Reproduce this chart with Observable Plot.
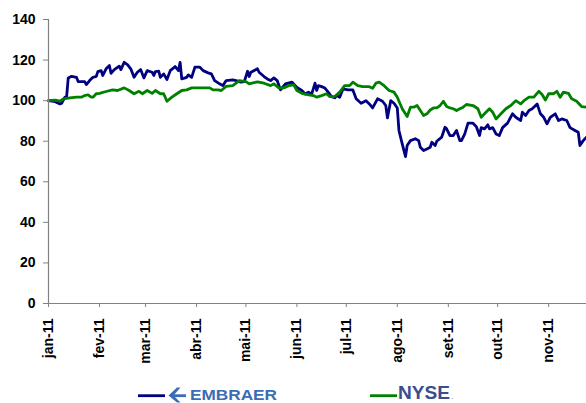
<!DOCTYPE html>
<html><head><meta charset="utf-8">
<script src="https://cdn.jsdelivr.net/npm/d3@7"></script>
<script src="https://cdn.jsdelivr.net/npm/@observablehq/plot@0.6"></script>
<style>
html,body{margin:0;padding:0;background:#fff;overflow:hidden}
#wrap{position:relative;width:586px;height:403px;font-family:"Liberation Sans",Arial,sans-serif}
#chart svg{display:block}
#legend{position:absolute;left:0;top:380px;width:586px;height:23px}
</style></head>
<body><div id="wrap"><div id="chart"></div>
<svg id="legend" width="586" height="23" viewBox="0 0 586 23">
  <rect x="138" y="14.3" width="27" height="2.8" fill="#000080"/>
  <g fill="#3a6db4">
    <polygon points="168.5,15.6 177,7.6 180.5,7.6 173.5,15.6 180.5,22.6 177,22.6"/>
    <rect x="171" y="14.3" width="15" height="2.8"/>
  </g>
  <text x="190" y="19.5" font-family="Liberation Sans, Arial, sans-serif" font-weight="bold" font-size="14.5" fill="#3a6db4" textLength="87" lengthAdjust="spacingAndGlyphs">EMBRAER</text>
  <rect x="370" y="14.3" width="27" height="2.8" fill="#008000"/>
  <text x="398" y="19" font-family="Liberation Sans, Arial, sans-serif" font-weight="bold" font-size="18" fill="#3b4d8f" textLength="52" lengthAdjust="spacingAndGlyphs">NYSE</text>
  <text x="451" y="19" font-family="Liberation Sans, Arial, sans-serif" font-size="9" fill="#9a9aa8">.</text>
</svg>
</div>
<script>
// ---- data ----
const monthTicks = ["01-01","02-01","03-01","04-01","05-01","06-01","07-01","08-01","09-01","10-01","11-01"];
const monthLabels = ["jan-11","fev-11","mar-11","abr-11","mai-11","jun-11","jul-11","ago-11","set-11","out-11","nov-11"];
const yTicks = [0,20,40,60,80,100,120,140];
const xStart = "01-01";
const xEnd = "11-24";

const embraerDates = ["01-01","01-05","01-08","01-09","01-11","01-12","01-13","01-15","01-18","01-19","01-23","01-24","01-26","01-28","01-30","01-31",
"02-02","02-03","02-05","02-07","02-08","02-10","02-13","02-14","02-16","02-18","02-20","02-22","02-24","02-26","02-28",
"03-02","03-05","03-06","03-07","03-09","03-10","03-12","03-14","03-16","03-19","03-21","03-22","03-23","03-26","03-27","03-29","03-31",
"04-03","04-05","04-08","04-10","04-12","04-15","04-17","04-19","04-23","04-25","04-28","04-30",
"05-02","05-03","05-04","05-08","05-09","05-12","05-14","05-16","05-18","05-20","05-22","05-25","05-29",
"06-01","06-04","06-06","06-08","06-10","06-12","06-13","06-14","06-16","06-18","06-20","06-22","06-24","06-25","06-27","06-29",
"07-02","07-05","07-07","07-10","07-13","07-15","07-17","07-20","07-23","07-25","07-26","07-28","07-30",
"08-01","08-02","08-04","08-06","08-07","08-09","08-12","08-14","08-15","08-17","08-19","08-21","08-22","08-24","08-25","08-28","08-30","08-31",
"09-02","09-04","09-06","09-08","09-09","09-11","09-13","09-16","09-18","09-20","09-21","09-23","09-25","09-26","09-28","09-30",
"10-02","10-04","10-07","10-10","10-12","10-15","10-16","10-18","10-20","10-22","10-25","10-27","10-29","10-31",
"11-02","11-05","11-07","11-09","11-12","11-14","11-17","11-19","11-20","11-22","11-24"];
const embraerValues = [100.0,99.5,98.4,98.7,101.7,101.7,111.2,112.0,111.5,109.4,109.4,107.9,109.9,111.5,111.9,114.3,
114.8,112.4,115.7,117.3,113.5,115.3,117.0,115.3,118.9,117.8,115.7,111.5,114.0,115.3,111.2,
114.8,114.0,112.4,114.3,114.5,111.5,113.2,110.4,114.8,116.8,114.8,118.9,110.7,111.5,112.7,111.5,116.5,
116.5,114.8,113.7,113.2,109.9,108.3,107.4,109.9,110.2,109.9,109.1,109.4,
114.5,111.9,114.0,115.7,114.0,111.9,110.7,109.9,111.2,109.9,105.3,108.3,109.1,
106.5,105.0,103.3,104.2,103.3,108.6,105.0,107.4,106.9,106.2,104.2,102.0,101.4,102.5,101.7,105.8,
105.3,105.3,100.9,98.7,100.0,98.4,96.4,100.9,99.7,97.6,91.5,100.0,98.7,
96.4,85.3,78.7,72.4,77.9,80.3,81.2,80.3,77.0,75.4,76.2,77.0,79.5,77.9,80.0,82.0,86.9,86.1,
82.8,82.8,85.3,80.3,80.3,83.6,88.9,88.9,87.2,82.8,86.7,86.1,88.1,86.1,86.7,83.6,
82.8,86.7,88.9,93.5,91.8,90.2,94.3,92.7,95.1,96.0,98.4,93.5,91.8,88.6,
91.8,93.5,90.2,91.0,90.2,86.7,85.3,84.4,77.9,80.3,82.0];

const nyseDates = ["01-01","01-05","01-08","01-10","01-14","01-18","01-21","01-23","01-25","01-27","01-28","01-30",
"02-01","02-05","02-09","02-12","02-16","02-19","02-22","02-25","02-27",
"03-02","03-05","03-07","03-10","03-12","03-14","03-17","03-20","03-23","03-26","03-29",
"04-01","04-05","04-09","04-11","04-14","04-16","04-19","04-23","04-27",
"05-01","05-03","05-08","05-12","05-16","05-18","05-21","05-24","05-27","05-30",
"06-01","06-04","06-08","06-11","06-13","06-16","06-19","06-21","06-24","06-27","06-30",
"07-03","07-05","07-08","07-11","07-15","07-17","07-19","07-21","07-24","07-27","07-30",
"08-01","08-04","08-07","08-09","08-11","08-13","08-15","08-17","08-19","08-21","08-23","08-25","08-27","08-29","08-31",
"09-02","09-04","09-06","09-08","09-10","09-12","09-16","09-19","09-21","09-23","09-26","09-28","09-30",
"10-03","10-06","10-09","10-12","10-15","10-17","10-20","10-23","10-26","10-28","10-30",
"11-01","11-04","11-06","11-08","11-10","11-13","11-15","11-18","11-21","11-24"];
const nyseValues = [100.0,100.3,99.8,100.9,101.4,101.7,101.7,102.5,102.9,101.7,101.7,103.4,
103.6,104.5,105.3,105.0,106.3,105.0,103.4,104.6,103.4,
105.0,103.6,105.0,103.4,103.4,99.7,101.7,103.4,105.0,105.3,106.3,
106.3,106.3,106.3,105.3,105.3,105.0,107.0,107.4,109.9,
109.4,108.3,109.3,108.6,107.4,108.3,106.3,106.3,107.4,107.8,
105.0,103.6,102.9,102.5,101.7,102.5,103.4,102.0,102.0,104.2,107.4,
107.4,109.1,107.4,106.9,106.9,106.1,108.6,109.1,107.4,105.0,104.2,
101.7,96.0,92.2,96.8,96.8,97.6,95.1,92.7,93.5,95.4,96.4,96.4,97.6,99.7,97.1,
96.4,96.0,95.1,96.0,96.8,98.1,97.6,96.0,91.8,93.5,96.0,94.3,91.0,
93.5,96.0,97.6,100.0,98.4,100.0,101.7,101.7,104.6,103.0,100.3,
103.4,103.4,104.6,101.7,104.2,103.6,100.9,99.7,97.1,96.8];

// ---- build ----
const parse = s => new Date("2011-" + s + "T00:00:00Z");
const embraer = embraerDates.map((d, i) => ({date: parse(d), value: embraerValues[i]}));
const nyse = nyseDates.map((d, i) => ({date: parse(d), value: nyseValues[i]}));
const labelOf = new Map(monthTicks.map((t, i) => [+parse(t), monthLabels[i]]));

const chart = Plot.plot({
  width: 586, height: 380,
  marginLeft: 48, marginRight: 0, marginTop: 19, marginBottom: 77,
  style: {fontFamily: '"Liberation Sans", Arial, sans-serif', fontSize: "14px", fontWeight: "bold", color: "black", background: "white", overflow: "visible"},
  x: {type: "utc", domain: [parse(xStart), parse(xEnd)]},
  y: {domain: [0, 140]},
  marks: [
    Plot.line(embraer, {x: "date", y: "value", stroke: "#000080", strokeWidth: 2.8}),
    Plot.line(nyse, {x: "date", y: "value", stroke: "#008000", strokeWidth: 2.8}),
    Plot.ruleX([parse(xStart)], {stroke: "#808080", strokeWidth: 1.2}),
    Plot.ruleY([0], {stroke: "#808080", strokeWidth: 1.2}),
    Plot.axisY({ticks: yTicks, tickSize: 5, tickPadding: 8, stroke: "#808080", fill: "black", label: null, tickFormat: d => String(d)}),
    Plot.axisX({ticks: monthTicks.map(parse), tickFormat: d => labelOf.get(+d), tickRotate: -90, tickSize: 4, tickPadding: 11, stroke: "#808080", fill: "black", label: null})
  ]
});
document.getElementById("chart").appendChild(chart);
</script>
</body></html>
